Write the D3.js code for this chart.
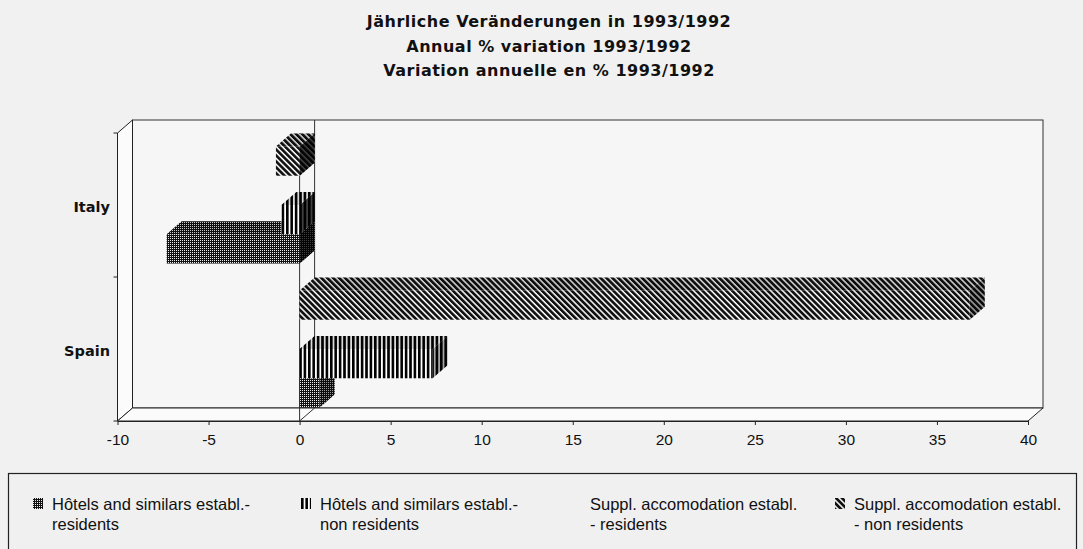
<!DOCTYPE html>
<html>
<head>
<meta charset="utf-8">
<script src="https://cdn.jsdelivr.net/npm/d3@7"></script>
<style>
  html, body { margin: 0; padding: 0; background: #f1f1f1; }
  svg { display: block; }
</style>
</head>
<body>
<svg id="chart" width="1083" height="549"></svg>
<script>
// ---- data ----
const categories = ["Italy", "Spain"];
const hotelsResidents = [-7.3, 1.1];
const hotelsNonResidents = [-1.0, 7.3];
const supplResidents = [4.0, 16.0];
const supplNonResidents = [-1.3, 36.8];
const xTickValues = [-10, -5, 0, 5, 10, 15, 20, 25, 30, 35, 40];
const titleLines = [
  "Jährliche Veränderungen in 1993/1992",
  "Annual % variation 1993/1992",
  "Variation annuelle en % 1993/1992"
];
const seriesKeys = ["hr", "hn", "sr", "sn"];
const legendLines = [
  ["Hôtels and similars establ.-", "residents"],
  ["Hôtels and similars establ.-", "non residents"],
  ["Suppl. accomodation establ.", "- residents"],
  ["Suppl. accomodation establ.", "- non residents"]
];
const seriesValues = {hr: hotelsResidents, hn: hotelsNonResidents, sr: supplResidents, sn: supplNonResidents};
const seriesFill = {hr: "url(#pHR)", hn: "url(#pHN)", sr: "none", sn: "url(#pSN)"};

// ---- layout ----
const svg = d3.select("#chart");
const DX = 15, DY = -13;           // 3D depth offset
const frontLeft = 117.5, frontRight = 1028;
const frontTop = 133, frontBottom = 421;

const x = d3.scaleLinear().domain([-10, 40]).range([frontLeft, frontRight]);
const yCat = d3.scaleBand().domain(categories).range([frontTop, frontBottom]).paddingInner(0).paddingOuter(0);
// top-to-bottom order within a category
const ySer = d3.scaleBand().domain(["sn", "sr", "hn", "hr"]).range([0, yCat.bandwidth()])
  .paddingInner(0).paddingOuter(0.46);

// ---- patterns ----
const defs = svg.append("defs");
const pHR = defs.append("pattern").attr("id", "pHR").attr("patternUnits", "userSpaceOnUse")
  .attr("width", 2).attr("height", 2);
pHR.append("rect").attr("width", 2).attr("height", 2).attr("fill", "#111");
pHR.append("rect").attr("x", 0).attr("y", 0).attr("width", 1).attr("height", 1).attr("fill", "#eee");

const pHN = defs.append("pattern").attr("id", "pHN").attr("patternUnits", "userSpaceOnUse")
  .attr("width", 4.4).attr("height", 10);
pHN.append("rect").attr("width", 4.4).attr("height", 10).attr("fill", "#fff");
pHN.append("rect").attr("width", 2.6).attr("height", 10).attr("fill", "#000");

const pSN = defs.append("pattern").attr("id", "pSN").attr("patternUnits", "userSpaceOnUse")
  .attr("width", 4.2).attr("height", 10).attr("patternTransform", "rotate(-45)");
pSN.append("rect").attr("width", 4.2).attr("height", 10).attr("fill", "#fff");
pSN.append("rect").attr("width", 2.7).attr("height", 10).attr("fill", "#111");

// ---- title ----
svg.append("g").selectAll("text").data(titleLines).join("text")
  .attr("x", 549).attr("y", (d, i) => 27 + i * 24.5)
  .attr("text-anchor", "middle")
  .attr("font-family", "DejaVu Sans, sans-serif").attr("font-weight", "bold")
  .attr("font-size", 16).attr("letter-spacing", 0.5).attr("fill", "#111")
  .text(d => d);

// ---- walls ----
const walls = svg.append("g");
const bx0 = frontLeft + DX, bx1 = frontRight + DX, by0 = frontTop + DY, by1 = frontBottom + DY;
walls.append("rect").attr("x", bx0).attr("y", by0).attr("width", bx1 - bx0).attr("height", by1 - by0)
  .attr("fill", "#f6f6f6").attr("stroke", "#333").attr("stroke-width", 1);
walls.append("path")
  .attr("d", `M${frontLeft},${frontTop} L${bx0},${by0} L${bx0},${by1} L${frontLeft},${frontBottom} Z`)
  .attr("fill", "#fbfbfb").attr("stroke", "#222").attr("stroke-width", 1);
walls.append("path")
  .attr("d", `M${frontLeft},${frontBottom} L${bx0},${by1} L${bx1},${by1} L${frontRight},${frontBottom} Z`)
  .attr("fill", "#fbfbfb").attr("stroke", "#222").attr("stroke-width", 1);
walls.append("line").attr("x1", x(0) + DX).attr("x2", x(0) + DX).attr("y1", by0).attr("y2", by1)
  .attr("stroke", "#333").attr("stroke-width", 1);
walls.append("line").attr("x1", x(0)).attr("x2", x(0) + DX).attr("y1", frontBottom).attr("y2", by1)
  .attr("stroke", "#333").attr("stroke-width", 1);
walls.append("line").attr("x1", x(0)).attr("x2", x(0)).attr("y1", frontTop).attr("y2", frontBottom)
  .attr("stroke", "#333").attr("stroke-width", 1);
const catEdges = [frontTop, yCat("Spain"), frontBottom];
walls.selectAll("line.ct").data(catEdges).join("line").attr("class", "ct")
  .attr("x1", frontLeft - 4).attr("x2", frontLeft).attr("y1", d => d).attr("y2", d => d)
  .attr("stroke", "#222");

// ---- bars ----
const barsG = svg.append("g");
const drawOrder = ["hr", "hn", "sr", "sn"];
["Spain", "Italy"].forEach(cat => {
  const ci = categories.indexOf(cat);
  drawOrder.forEach(key => {
    const v = seriesValues[key][ci];
    const fill = seriesFill[key];
    if (fill === "none") return;
    const xa = x(Math.min(0, v)), xb = x(Math.max(0, v));
    const yt = yCat(cat) + ySer(key), h = ySer.bandwidth();
    const g = barsG.append("g");
    const top = `M${xa},${yt} L${xa + DX},${yt + DY} L${xb + DX},${yt + DY} L${xb},${yt} Z`;
    const side = `M${xb},${yt} L${xb + DX},${yt + DY} L${xb + DX},${yt + h + DY} L${xb},${yt + h} Z`;
    g.append("path").attr("d", side).attr("fill", fill);
    g.append("path").attr("d", side).attr("fill", "#000").attr("opacity", v < 0 ? 0.75 : 0.35);
    g.append("path").attr("d", top).attr("fill", fill);
    g.append("path").attr("d", top).attr("fill", "#000").attr("opacity", 0.15);
    g.append("rect").attr("x", xa).attr("y", yt).attr("width", xb - xa).attr("height", h).attr("fill", fill);
  });
});

// ---- axes ----
const xAxis = d3.axisBottom(x).tickValues(xTickValues).tickSize(4).tickSizeOuter(0).tickPadding(9)
  .tickFormat(d => String(d));
const ax = svg.append("g").attr("transform", `translate(0,${frontBottom})`).call(xAxis);
ax.select(".domain").attr("stroke", "#222");
ax.selectAll(".tick line").attr("stroke", "#222");
ax.selectAll(".tick text").attr("font-family", "Liberation Sans, Arial, sans-serif")
  .attr("font-size", 15.5).attr("fill", "#111");

svg.append("g").selectAll("text").data(categories).join("text")
  .attr("x", 110).attr("y", d => yCat(d) + yCat.bandwidth() / 2 + 2.5)
  .attr("dominant-baseline", "middle").attr("text-anchor", "end")
  .attr("font-family", "DejaVu Sans, sans-serif").attr("font-weight", "bold")
  .attr("font-size", 14.5).attr("fill", "#111")
  .text(d => d);

// ---- legend ----
const lg = svg.append("g");
lg.append("rect").attr("x", 8.5).attr("y", 473.5).attr("width", 1068).attr("height", 120)
  .attr("fill", "#f0f0f0").attr("stroke", "#222").attr("stroke-width", 1.2);
const legendX = [33, 301, 578, 835];
seriesKeys.forEach((key, i) => {
  const g = lg.append("g").attr("transform", `translate(${legendX[i]},0)`);
  if (seriesFill[key] !== "none") {
    g.append("rect").attr("x", 0).attr("y", 498).attr("width", 10).attr("height", 11)
      .attr("fill", seriesFill[key]);
  }
  g.selectAll("text").data(legendLines[i]).join("text")
    .attr("x", key === "sr" ? 12 : 19).attr("y", (d, j) => 510 + j * 20)
    .attr("font-family", "Liberation Sans, Arial, sans-serif").attr("font-size", 16.5).attr("fill", "#111")
    .text(d => d);
});
</script>
</body>
</html>
